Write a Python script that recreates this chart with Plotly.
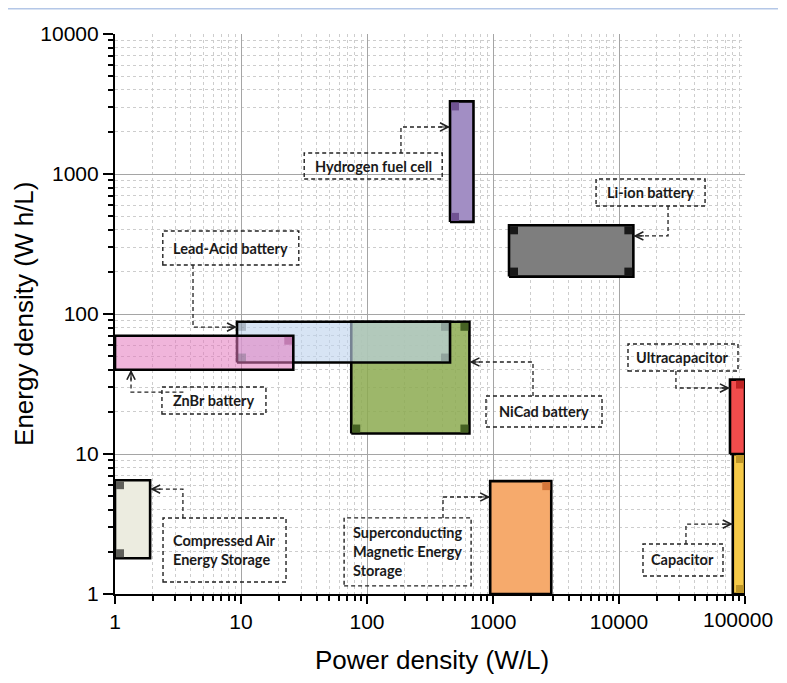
import numpy as np
import plotly.graph_objects as go

# ---------------- data ----------------
technologies = ["CAES", "SMES", "NiCad", "LeadAcid", "ZnBr", "Hydrogen", "LiIon", "Capacitor", "Ultracapacitor"]
power_min = [1.0, 950, 75, 9.3, 1.0, 456, 1340, 80000, 76000]        # W/L
power_max = [1.9, 2900, 650, 456, 26, 700, 13000, 100000, 100000]     # W/L
energy_min = [1.8, 1.0, 14, 45, 40, 455, 185, 1.0, 10]                # Wh/L
energy_max = [6.5, 6.4, 88, 88, 70, 3300, 430, 10, 34]                # Wh/L

label_texts = ["Compressed Air<br>Energy Storage",
               "Superconducting<br>Magnetic Energy<br>Storage",
               "NiCad battery", "Lead-Acid battery", "ZnBr battery",
               "Hydrogen fuel cell", "Li-ion battery", "Capacitor", "Ultracapacitor"]
label_x = [7.4, 210, 2540, 8.3, 6.1, 112, 17800, 32200, 32200]
label_y = [2.06, 2.0, 20.1, 296, 24.1, 1140, 738, 1.75, 48.9]

# elbow connectors: box -> rectangle (last point is the arrow tip)
conn_x = [[3.46, 3.46, 1.9], [401, 401, 950], [2077, 2077, 650], [4.16, 4.16, 9.3],
          [3.49, 1.34, 1.34], [186, 186, 456], [24500, 24500, 13000],
          [34000, 34000, 80000], [28300, 28300, 76000]]
conn_y = [[3.49, 5.62, 5.62], [3.49, 4.93, 4.93], [26, 45.4, 45.4], [224, 80.7, 80.7],
          [27.7, 27.7, 40], [1413, 2167, 2167], [591, 361, 361],
          [2.28, 3.16, 3.16], [39.2, 29.6, 29.6]]

x_tickvals = [1, 10, 100, 1000, 10000, 100000]
x_ticktext = ["1", "10", "100", "1000", "10000", "100000"]
y_tickvals = [1, 10, 100, 1000, 10000]
y_ticktext = ["1", "10", "100", "1000", "10000"]

# ---------------- geometry / styles ----------------
W, H = 770, 666
ML, MR, MT, MB = 107, 33, 26, 80
X_RANGE, Y_RANGE = [0, 5], [0, 4]
DEC_X = (W - ML - MR) / (X_RANGE[1] - X_RANGE[0])   # pixels per decade
DEC_Y = (H - MT - MB) / (Y_RANGE[1] - Y_RANGE[0])


def fx(p):
    return 10 ** (p / DEC_X)


def fy(p):
    return 10 ** (p / DEC_Y)


fill_colors = {
    "CAES": "rgb(236,236,224)",
    "SMES": "rgb(246,170,108)",
    "NiCad": "rgba(140,170,80,0.85)",
    "LeadAcid": "rgba(190,212,238,0.62)",
    "ZnBr": "rgba(228,120,190,0.55)",
    "Hydrogen": "rgb(162,142,196)",
    "LiIon": "rgb(126,126,126)",
    "Capacitor": "rgb(246,202,72)",
    "Ultracapacitor": "rgb(242,76,76)",
}
corner_style = {
    "CAES": ("rgb(95,95,90)", ["tl", "bl"]),
    "SMES": ("rgb(212,118,58)", ["tr"]),
    "NiCad": ("rgb(70,98,35)", ["tr", "bl", "br"]),
    "LeadAcid": ("rgba(70,80,90,0.3)", ["tl", "tr", "br", "bl"]),
    "ZnBr": ("rgba(140,40,110,0.35)", ["tr"]),
    "Hydrogen": ("rgb(112,82,146)", ["tl", "bl"]),
    "LiIon": ("rgb(25,25,25)", ["tl", "tr", "bl", "br"]),
    "Capacitor": ("rgb(190,150,40)", ["tr", "br"]),
    "Ultracapacitor": ("rgb(190,35,35)", ["tr"]),
}
box_size = [(123, 64), (127, 68), (116, 31), (136, 34), (104, 27),
            (138, 26), (109, 27), (80, 32), (110, 27)]

LABEL_FONT = dict(family="Lato, Carlito, Liberation Sans, sans-serif", size=14.5, color="#1a1a1a", weight="bold")
TICK_FONT = dict(family="Liberation Sans, Arial, sans-serif", size=21, color="black")
TITLE_FONT = dict(family="Liberation Sans, Arial, sans-serif", size=26, color="black")
DASH = "4px,3px"
SQ = 9

fig = go.Figure()
shapes = []
annotations = []

for i, t in enumerate(technologies):
    x0, x1, y0, y1 = power_min[i], power_max[i], energy_min[i], energy_max[i]
    fig.add_trace(go.Scatter(
        x=[x0, x1, x1, x0, x0], y=[y0, y0, y1, y1, y0],
        mode="lines", fill="toself", fillcolor=fill_colors[t],
        line=dict(color="black", width=2.6), hoverinfo="skip", showlegend=False))
    col, corners = corner_style[t]
    for c in corners:
        if c[1] == "l":
            cx0, cx1 = x0 * fx(1), x0 * fx(SQ)
        else:
            cx0, cx1 = x1 / fx(SQ), x1 / fx(1)
        if c[0] == "b":
            cy0, cy1 = y0 * fy(1), y0 * fy(SQ)
        else:
            cy0, cy1 = y1 / fy(SQ), y1 / fy(1)
        shapes.append(dict(type="rect", xref="x", yref="y", x0=cx0, x1=cx1, y0=cy0, y1=cy1,
                           fillcolor=col, line=dict(width=0), layer="above"))

for i, t in enumerate(technologies):
    xs, ys = conn_x[i], conn_y[i]
    fig.add_trace(go.Scatter(x=xs, y=ys, mode="lines",
                             line=dict(color="#222222", width=1.3, dash=DASH),
                             hoverinfo="skip", showlegend=False))
    if abs(np.log10(xs[-1]) - np.log10(xs[-2])) > 1e-9:
        ax = -12 if xs[-1] > xs[-2] else 12
        ay = 0
    else:
        ax = 0
        ay = 12 if ys[-1] > ys[-2] else -12
    annotations.append(dict(x=np.log10(xs[-1]), y=np.log10(ys[-1]), xref="x", yref="y",
                            text="", showarrow=True, arrowhead=5, arrowsize=1.35,
                            arrowwidth=1.2, arrowcolor="#222222", ax=ax, ay=ay, standoff=0))
    w, h = box_size[i]
    shapes.append(dict(type="rect", xref="x", yref="y",
                       x0=label_x[i] / fx(w / 2), x1=label_x[i] * fx(w / 2),
                       y0=label_y[i] / fy(h / 2), y1=label_y[i] * fy(h / 2),
                       line=dict(color="#222222", width=1.4, dash=DASH),
                       fillcolor="rgba(0,0,0,0)", layer="above"))
    annotations.append(dict(x=np.log10(label_x[i]), y=np.log10(label_y[i]), xref="x", yref="y",
                            text=label_texts[i], showarrow=False, align="left",
                            font=LABEL_FONT, xanchor="center", yanchor="middle"))

# the last x tick label sits at the page edge: place it as text ending just inside the page
x_ticktext_axis = x_ticktext[:-1] + [""]
annotations.append(dict(x=np.log10(x_tickvals[-1]), y=-0.046, xref="x", yref="paper",
                        xshift=29, showarrow=False, text=x_ticktext[-1], font=TICK_FONT,
                        xanchor="right", yanchor="middle", borderpad=0))

# axis titles
annotations.append(dict(x=0.503, y=-0.118, xref="paper", yref="paper", showarrow=False,
                        text="Power density (W/L)", font=TITLE_FONT,
                        xanchor="center", yanchor="middle"))
annotations.append(dict(x=-0.1445, y=0.5, xref="paper", yref="paper", showarrow=False,
                        text="Energy density (W h/L)", font=TITLE_FONT, textangle=-90,
                        xanchor="center", yanchor="middle"))

# thin page rule at the very top
shapes.append(dict(type="line", xref="paper", yref="paper", x0=-0.2, x1=1.1, y0=1.045, y1=1.045,
                   line=dict(color="rgb(180,199,231)", width=1.5)))

common_minor = dict(ticks="outside", ticklen=5, tickwidth=1.5, tickcolor="black",
                    showgrid=True, gridcolor="rgb(205,205,205)", griddash="dot", gridwidth=1,
                    dtick="D1")

fig.update_layout(
    width=W, height=H,
    margin=dict(l=ML, r=MR, t=MT, b=MB),
    paper_bgcolor="white", plot_bgcolor="white",
    showlegend=False,
    shapes=shapes, annotations=annotations,
    xaxis=dict(type="log", range=X_RANGE, tickmode="array", tickvals=x_tickvals, ticktext=x_ticktext_axis,
               showline=True, linecolor="black", linewidth=2.2, mirror=False,
               ticks="outside", ticklen=8, tickwidth=2, tickcolor="black",
               showgrid=True, gridcolor="rgb(165,165,165)", gridwidth=1,
               tickfont=TICK_FONT, zeroline=False, minor=common_minor),
    yaxis=dict(type="log", range=Y_RANGE, tickmode="array", tickvals=y_tickvals, ticktext=y_ticktext,
               showline=True, linecolor="black", linewidth=2.2, mirror=False,
               ticks="outside", ticklen=10, tickwidth=2, tickcolor="black",
               showgrid=True, gridcolor="rgb(165,165,165)", gridwidth=1,
               tickfont=TICK_FONT, zeroline=False, minor=common_minor),
)

fig.write_html("out.html")
